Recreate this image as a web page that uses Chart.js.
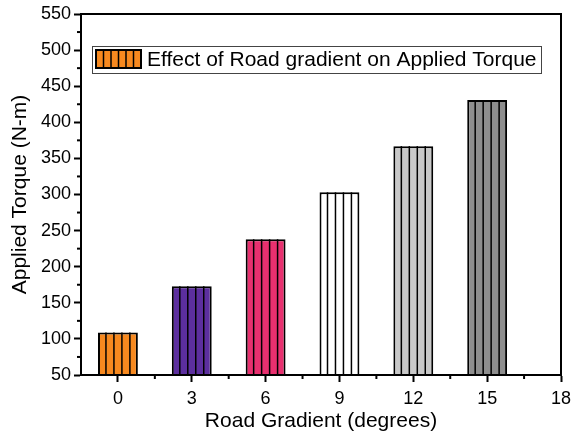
<!DOCTYPE html>
<html>
<head>
<meta charset="utf-8">
<script src="https://cdn.jsdelivr.net/npm/chart.js@4/dist/chart.umd.min.js"></script>
<style>
  html, body { margin: 0; padding: 0; background: #fff; }
  #wrap { width: 579px; height: 436px; }
</style>
</head>
<body>
<div id="wrap"><canvas id="torqueChart"></canvas></div>
<script>
// data
const gradients = [0, 3, 6, 9, 12, 15];          // road gradient (degrees)
const torque = [109, 173, 238, 303, 367, 431];   // applied torque (N-m)
const xTickValues = [0, 3, 6, 9, 12, 15, 18];
const barColors = ['#F7891F', '#5C2F9E', '#E8306F', '#FFFFFF', '#C8C8C8', '#8E8E8E'];
const seriesLabel = 'Effect of Road gradient on Applied Torque';

const FONT = '"Liberation Sans", Arial, sans-serif';

// stripes inside bars, frame, minor ticks and boxed legend
const decorPlugin = {
  id: 'decor',
  afterDatasetsDraw(chart) {
    const ctx = chart.ctx;
    const area = chart.chartArea;
    const meta = chart.getDatasetMeta(0);
    ctx.save();
    ctx.beginPath();
    ctx.rect(area.left, area.top, area.right - area.left, area.bottom - area.top);
    ctx.clip();
    ctx.strokeStyle = '#000';
    ctx.lineWidth = 1.5;
    meta.data.forEach(bar => {
      const left = bar.x - bar.width / 2;
      const bottom = Math.min(bar.base, area.bottom);
      for (let k = 1; k < 5; k++) {
        const sx = left + bar.width * k / 5;
        ctx.beginPath();
        ctx.moveTo(sx, bar.y);
        ctx.lineTo(sx, bottom);
        ctx.stroke();
      }
    });
    ctx.restore();
  },
  afterDraw(chart) {
    const ctx = chart.ctx;
    const area = chart.chartArea;
    const xs = chart.scales.x;
    const ys = chart.scales.y;
    ctx.save();
    // frame
    ctx.strokeStyle = '#000';
    ctx.lineWidth = 2;
    ctx.strokeRect(area.left, area.top, area.right - area.left, area.bottom - area.top);
    // minor ticks
    for (let v = ys.min + 25; v < ys.max; v += 50) {
      const py = ys.getPixelForValue(v);
      ctx.beginPath();
      ctx.moveTo(area.left - 4, py);
      ctx.lineTo(area.left, py);
      ctx.stroke();
    }
    for (let v = 1.5; v < xs.max; v += 3) {
      const px = xs.getPixelForValue(v);
      ctx.beginPath();
      ctx.moveTo(px, area.bottom);
      ctx.lineTo(px, area.bottom + 4);
      ctx.stroke();
    }
    // legend box
    const bx = area.left + 11, by = area.top + 32, bw = 449, bh = 27;
    ctx.lineWidth = 1;
    ctx.strokeStyle = '#444';
    ctx.strokeRect(bx + 0.5, by + 0.5, bw, bh);
    // swatch
    const sx = bx + 4, sy = by + 4, sw = 45, sh = 18;
    ctx.fillStyle = barColors[0];
    ctx.fillRect(sx, sy, sw, sh);
    ctx.strokeStyle = '#000';
    ctx.lineWidth = 1.5;
    for (let k = 1; k < 6; k++) {
      const lx = sx + sw * k / 6;
      ctx.beginPath();
      ctx.moveTo(lx, sy);
      ctx.lineTo(lx, sy + sh);
      ctx.stroke();
    }
    ctx.lineWidth = 2;
    ctx.strokeRect(sx, sy, sw, sh);
    ctx.fillStyle = '#000';
    ctx.font = '21px ' + FONT;
    ctx.textBaseline = 'middle';
    ctx.fillText(seriesLabel, sx + sw + 6, by + bh / 2 + 1);
    ctx.restore();
  }
};

new Chart(document.getElementById('torqueChart'), {
  type: 'bar',
  data: {
    datasets: [{
      label: seriesLabel,
      data: gradients.map((g, i) => ({ x: g, y: torque[i] })),
      backgroundColor: barColors,
      borderColor: '#000',
      borderWidth: 2,
      borderSkipped: false,
      barPercentage: 0.54,
      categoryPercentage: 1.0
    }]
  },
  options: {
    responsive: true,
    maintainAspectRatio: false,
    animation: false,
    layout: { padding: { left: 0, top: 14, right: 18, bottom: 0 } },
    plugins: {
      legend: { display: false },
      tooltip: { enabled: false }
    },
    scales: {
      x: {
        type: 'linear',
        offset: false,
        min: -1.5,
        max: 18,
        afterBuildTicks: scale => {
          scale.ticks = xTickValues.map(v => ({ value: v }));
        },
        afterFit: scale => { scale.height = 61; },
        ticks: {
          color: '#000',
          font: { family: FONT, size: 18 },
          padding: 6,
          maxRotation: 0
        },
        grid: {
          drawOnChartArea: false,
          drawTicks: true,
          tickLength: 7,
          tickWidth: 2,
          tickColor: '#000',
          offset: false
        },
        border: { color: '#000', width: 2 },
        title: {
          display: true,
          text: 'Road Gradient (degrees)',
          color: '#000',
          font: { family: FONT, size: 21 },
          padding: { top: 0, bottom: 2 }
        }
      },
      y: {
        min: 50,
        max: 550,
        afterFit: scale => { scale.width = 81; },
        ticks: {
          stepSize: 50,
          color: '#000',
          font: { family: FONT, size: 18 },
          padding: 3
        },
        grid: {
          drawOnChartArea: false,
          drawTicks: true,
          tickLength: 7,
          tickWidth: 2,
          tickColor: '#000'
        },
        border: { color: '#000', width: 2 },
        title: {
          display: true,
          text: 'Applied Torque (N-m)',
          color: '#000',
          font: { family: FONT, size: 21 },
          padding: { top: 8, bottom: 0 }
        }
      }
    }
  },
  plugins: [decorPlugin]
});
</script>
</body>
</html>
